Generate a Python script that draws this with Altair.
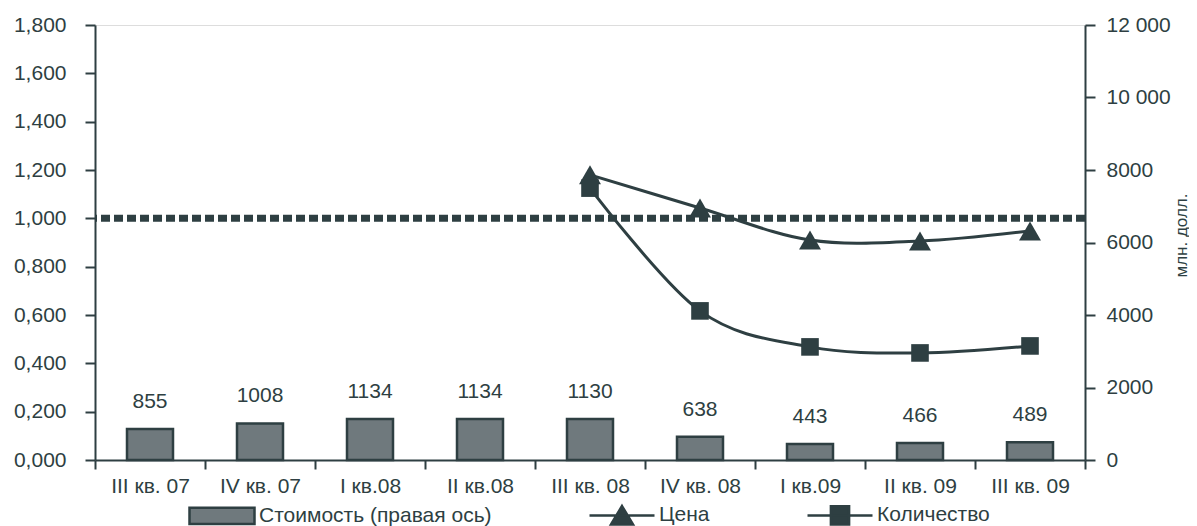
import altair as alt
import pandas as pd

quarters = ["III кв. 07", "IV кв. 07", "I кв.08", "II кв.08", "III кв. 08",
            "IV кв. 08", "I кв.09", "II кв. 09", "III кв. 09"]
cost = [855, 1008, 1134, 1134, 1130, 638, 443, 466, 489]
price = [None, None, None, None, 1.18, 1.043, 0.91, 0.906, 0.948]
quantity = [None, None, None, None, 1.125, 0.617, 0.468, 0.443, 0.472]
reference_level = 1.0
series_names = ["Стоимость (правая ось)", "Цена", "Количество"]
left_ticks = [0, 0.2, 0.4, 0.6, 0.8, 1.0, 1.2, 1.4, 1.6, 1.8]
right_ticks = [0, 2000, 4000, 6000, 8000, 10000, 12000]

DARK = "#2e3f42"
GREY = "#6f797d"
FONT = "Liberation Sans"
FS = 21

bars_df = pd.DataFrame({"quarter": quarters, "cost": cost})
price_df = pd.DataFrame({"quarter": quarters, "value": price}).dropna()
qty_df = pd.DataFrame({"quarter": quarters, "value": quantity}).dropna()
legend_df = pd.DataFrame({"quarter": [quarters[0]] * 3, "series": series_names,
                          "value": [None, None, None]})

x_enc = alt.X("quarter:N", sort=quarters,
              scale=alt.Scale(domain=quarters, paddingInner=0, paddingOuter=0),
              axis=alt.Axis(title=None, labelAngle=0, tickBand="extent", tickSize=9,
                            labelPadding=6, domainColor=DARK, domainWidth=2,
                            tickColor=DARK, tickWidth=2, labelFontSize=FS,
                            labelColor=DARK, labelFont=FONT))

left_scale = alt.Scale(domain=[0, 1.8], nice=False, zero=True)
left_axis = alt.Axis(title=None, values=left_ticks, grid=False, tickSize=10,
                     labelPadding=19, domainColor=DARK, domainWidth=2, tickColor=DARK,
                     tickWidth=2, labelFontSize=FS, labelColor=DARK, labelFont=FONT,
                     labelExpr="replace(format(datum.value, '.3f'), '.', ',')")

right_scale = alt.Scale(domain=[0, 12000], nice=False, zero=True)
right_axis = alt.Axis(title="млн. долл.", orient="right", values=right_ticks, grid=False,
                      tickSize=10, labelPadding=11, domainColor=DARK, domainWidth=2,
                      tickColor=DARK, tickWidth=2, labelFontSize=FS, labelColor=DARK,
                      labelFont=FONT,
                      labelExpr="datum.value >= 10000 ? replace(format(datum.value, ','), ',', ' ') : format(datum.value, 'd')",
                      titleAngle=270, titleX=96, titleY=210, titleAlign="center",
                      titleBaseline="middle", titleFontSize=17, titleFontWeight="normal",
                      titleColor=DARK, titleFont=FONT)

rule = alt.Chart(pd.DataFrame({"level": [reference_level]})).mark_rule(
    color=DARK, strokeWidth=7, strokeDash=[9, 4]
).encode(y=alt.Y("level:Q", scale=left_scale, axis=left_axis))

price_line = alt.Chart(price_df).mark_line(
    color=DARK, strokeWidth=3, interpolate="cardinal"
).encode(x=x_enc, y=alt.Y("value:Q", scale=left_scale, axis=left_axis))
price_pts = alt.Chart(price_df).mark_point(
    shape="triangle-up", filled=True, color=DARK, opacity=1, size=480
).encode(x=x_enc, y=alt.Y("value:Q", scale=left_scale, axis=left_axis))

qty_line = alt.Chart(qty_df).mark_line(
    color=DARK, strokeWidth=3, interpolate="cardinal"
).encode(x=x_enc, y=alt.Y("value:Q", scale=left_scale, axis=left_axis))
qty_pts = alt.Chart(qty_df).mark_point(
    shape="square", filled=True, color=DARK, opacity=1, size=310
).encode(x=x_enc, y=alt.Y("value:Q", scale=left_scale, axis=left_axis))

rect_path = "M-1,-0.25H1V0.25H-1Z"
tri_path = "M-1,0H1M0,-0.29L0.34,0.28H-0.34Z"
sq_path = "M-1,0H1M-0.28,-0.28H0.28V0.28H-0.28Z"

legend_cfg = dict(title=None, orient="none", direction="horizontal", columns=3,
                  legendX=93, legendY=456, symbolSize=4225, symbolStrokeColor=DARK,
                  symbolStrokeWidth=2.5, labelFontSize=FS, labelColor=DARK,
                  labelFont=FONT, labelOffset=3, columnPadding=92, padding=0,
                  symbolOpacity=1, labelLimit=400)

legend_layer = alt.Chart(legend_df).mark_point(
    filled=True, opacity=1, strokeWidth=2.5
).encode(
    x=x_enc,
    y=alt.Y("value:Q", scale=left_scale, axis=left_axis),
    shape=alt.Shape("series:N", sort=series_names,
                    scale=alt.Scale(domain=series_names, range=[rect_path, tri_path, sq_path]),
                    legend=alt.Legend(**legend_cfg)),
    fill=alt.Fill("series:N", sort=series_names,
                  scale=alt.Scale(domain=series_names, range=[GREY, DARK, DARK]),
                  legend=alt.Legend(**legend_cfg)),
    stroke=alt.Stroke("series:N", sort=series_names,
                      scale=alt.Scale(domain=series_names, range=[DARK, DARK, DARK]),
                      legend=alt.Legend(**legend_cfg)),
)

left = alt.layer(rule, price_line, qty_line, price_pts, qty_pts, legend_layer)

bars = alt.Chart(bars_df).mark_bar(
    size=46, fill=GREY, stroke=DARK, strokeWidth=2.5
).encode(x=x_enc, y=alt.Y("cost:Q", scale=right_scale, axis=right_axis))
labels = alt.Chart(bars_df).mark_text(
    baseline="alphabetic", dy=-21, fontSize=FS, color=DARK, font=FONT
).encode(x=x_enc, y=alt.Y("cost:Q", scale=right_scale, axis=right_axis),
         text=alt.Text("cost:Q", format="d"))

right = alt.layer(bars, labels)

chart = alt.layer(right, left).resolve_scale(y="independent").properties(
    width=990, height=435,
    autosize=alt.AutoSizeParams(type="none"),
    padding={"left": 87, "top": 17, "right": 104, "bottom": 66},
).configure_view(stroke=None).configure(font=FONT)

chart.save("out.html", embed_options={"renderer": "svg", "actions": False})
